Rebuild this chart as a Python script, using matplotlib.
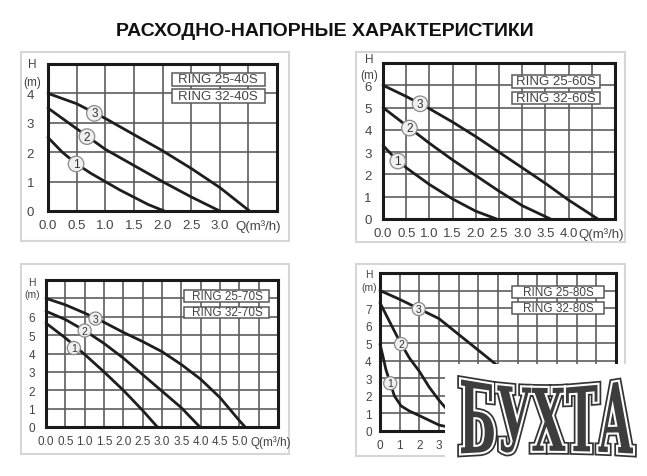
import matplotlib
matplotlib.use("Agg")
import matplotlib.pyplot as plt
import matplotlib.patheffects as pe
import numpy as np
from matplotlib.patches import Rectangle, PathPatch
from matplotlib.textpath import TextPath
from matplotlib.font_manager import FontProperties
from matplotlib.path import Path

plt.rcParams['font.family'] = ['Liberation Sans', 'DejaVu Sans']

W, H = 647, 477

title = "РАСХОДНО-НАПОРНЫЕ ХАРАКТЕРИСТИКИ"
q_label = "Q(m³/h)"

# ---- RING 25/32-40S
p1_models = ["RING 25-40S", "RING 32-40S"]
p1_q1 = [0, 0.25, 0.5, 0.75, 1.0, 1.25, 1.5, 1.75, 2.03]
p1_h1 = [2.5, 2.0, 1.6, 1.28, 1.0, 0.72, 0.47, 0.22, 0.0]
p1_q2 = [0, 0.5, 1.0, 1.5, 2.0, 2.5, 3.0]
p1_h2 = [3.5, 2.8, 2.1, 1.55, 1.0, 0.48, 0.0]
p1_q3 = [0, 0.5, 1.0, 1.5, 2.0, 2.5, 3.0, 3.52]
p1_h3 = [4.0, 3.65, 3.15, 2.6, 2.05, 1.45, 0.8, 0.0]
p1_xlab = ["0.0", "0.5", "1.0", "1.5", "2.0", "2.5", "3.0"]
p1_ylab = ["0", "1", "2", "3", "4"]

# ---- RING 25/32-60S
p2_models = ["RING 25-60S", "RING 32-60S"]
p2_q1 = [0, 0.25, 0.5, 1.0, 1.5, 2.0, 2.45]
p2_h1 = [3.3, 2.75, 2.3, 1.55, 0.9, 0.35, 0.0]
p2_q2 = [0, 0.5, 1.0, 1.5, 2.0, 2.5, 3.0, 3.61]
p2_h2 = [5.0, 4.2, 3.4, 2.65, 1.95, 1.25, 0.6, 0.0]
p2_q3 = [0, 0.5, 1.0, 1.5, 2.0, 2.5, 3.0, 3.5, 4.0, 4.63]
p2_h3 = [6.0, 5.5, 4.95, 4.35, 3.7, 3.0, 2.3, 1.6, 0.85, 0.0]
p2_xlab = ["0.0", "0.5", "1.0", "1.5", "2.0", "2.5", "3.0", "3.5", "4.0"]
p2_ylab = ["0", "1", "2", "3", "4", "5", "6"]

# ---- RING 25/32-70S
p3_models = ["RING 25-70S", "RING 32-70S"]
p3_q1 = [0, 0.5, 1.0, 1.5, 2.0, 2.5, 2.88]
p3_h1 = [5.65, 4.85, 3.95, 3.0, 2.0, 0.9, 0.0]
p3_q2 = [0, 0.5, 1.0, 1.5, 2.0, 2.5, 3.0, 3.5, 3.98]
p3_h2 = [6.3, 5.85, 5.25, 4.55, 3.75, 2.85, 1.95, 1.05, 0.0]
p3_q3 = [0, 0.5, 1.0, 1.5, 2.0, 2.5, 3.0, 3.5, 4.0, 4.5, 5.0, 5.15]
p3_h3 = [7.0, 6.65, 6.2, 5.7, 5.15, 4.65, 4.1, 3.4, 2.6, 1.6, 0.35, 0.0]
p3_xlab = ["0.0", "0.5", "1.0", "1.5", "2.0", "2.5", "3.0", "3.5", "4.0", "4.5", "5.0"]
p3_ylab = ["0", "1", "2", "3", "4", "5", "6"]

# ---- RING 25/32-80S
p4_models = ["RING 25-80S", "RING 32-80S"]
p4_q1 = [0, 0.14, 0.3, 0.53, 0.73, 1.07, 1.49, 2.03, 3.0, 4.0, 5.0]
p4_h1 = [4.95, 4.3, 3.5, 2.7, 2.0, 1.43, 1.14, 0.86, 0.34, 0.1, 0.0]
p4_q2 = [0, 0.5, 1.0, 1.5, 2.0, 2.5, 3.0, 3.5, 4.0, 4.6]
p4_h2 = [7.3, 6.2, 5.1, 4.15, 3.4, 2.5, 1.75, 1.1, 0.5, 0.0]
p4_q3 = [0, 1, 2, 3, 4, 5, 6, 7, 8, 9.2]
p4_h3 = [8.0, 7.5, 6.95, 6.4, 5.5, 4.6, 3.7, 2.7, 1.5, 0.0]
p4_xlab = ["0", "1", "2", "3", "4", "5", "6", "7", "8", "9", "10"]
p4_ylab = ["0", "1", "2", "3", "4", "5", "6", "7"]

watermark = "БУХТА"

fig = plt.figure(figsize=(W / 100, H / 100), dpi=100)


def draw_panel(ax_px, frame_px, xmax, xstep, ymax, xlab, ylab, curves, marks,
               models, box, q_x, hm_x, hm_y, fs=9.5, ypad=8):
    l, t, r, b = ax_px
    ax = fig.add_axes([l / W, 1 - b / H, (r - l) / W, (b - t) / H])
    fl, ft, fr, fb = frame_px
    fig.add_artist(Rectangle((fl / W, 1 - fb / H), (fr - fl) / W, (fb - ft) / H,
                             transform=fig.transFigure, fill=False,
                             ec='#d6d6d6', lw=1.5, zorder=0))
    xt = np.arange(0, xmax + 1e-9, xstep)
    yt = np.arange(0, ymax + 1)
    ax.set_xticks(xt)
    ax.set_xticklabels(xlab + [''] * (len(xt) - len(xlab)))
    ax.set_yticks(yt)
    ax.set_yticklabels(ylab + [''] * (len(yt) - len(ylab)))
    ax.set_xlim(0, xmax)
    ax.set_ylim(0, ymax)
    ax.grid(True, color='#5e5e5e', lw=1.2)
    ax.set_axisbelow(True)
    ax.tick_params(axis='x', length=0, labelsize=fs, colors='#444', pad=6)
    ax.tick_params(axis='y', length=0, labelsize=fs, colors='#444', pad=ypad)
    for s in ax.spines.values():
        s.set_linewidth(2.2)
        s.set_color('#1a1a1a')
    for q, h in curves:
        ax.plot(q, h, color='#1e1e1e', lw=2.0, solid_capstyle='round', clip_on=False)
    for i, (mx, my) in enumerate(marks):
        ax.text(mx, my, str(i + 1), ha='center', va='center', fontsize=fs - 1,
                color='#333', zorder=6,
                bbox=dict(boxstyle='circle,pad=0.15', fc='#f0f0f0', ec='#8a8a8a', lw=0.9))
    x0, x1, ya, yb, yc, yd = box
    for m, (ylo, yhi) in zip(models, [(yb, ya), (yd, yc)]):
        ax.add_patch(Rectangle((x0, ylo), x1 - x0, yhi - ylo, fc='white',
                               ec='#5a5a5a', lw=1.1, zorder=4))
        ax.text((x0 + x1) / 2, (ylo + yhi) / 2, m, ha='center', va='center',
                fontsize=fs, color='#444', zorder=5)
    ax.annotate(q_label, xy=(q_x, 0), xycoords=('data', 'axes fraction'),
                xytext=(0, -6), textcoords='offset points', ha='left', va='top',
                fontsize=fs, color='#444', annotation_clip=False)
    fig.text(hm_x / W, 1 - hm_y[0] / H, "H", ha='center', va='center',
             fontsize=fs - 1, color='#444')
    fig.text(hm_x / W, 1 - hm_y[1] / H, "(m)", ha='center', va='center',
             fontsize=fs - 1, color='#444')
    return ax


fig.text(325 / W, 1 - 31 / H, title, ha='center', va='center', fontsize=14,
         fontweight='bold', color='#111')

draw_panel((48, 65, 277, 212), (21, 53, 289, 242), 4.0, 0.5, 5, p1_xlab, p1_ylab,
           [(p1_q1, p1_h1), (p1_q2, p1_h2), (p1_q3, p1_h3)],
           [(0.49, 1.6), (0.68, 2.53), (0.81, 3.32)],
           p1_models, (2.16, 3.79, 4.71, 4.25, 4.14, 3.68), 3.28,
           32, (65, 83), fs=9.5, ypad=10)

draw_panel((383, 64, 615, 220), (356, 53, 625, 243), 5.0, 0.5, 7, p2_xlab, p2_ylab,
           [(p2_q1, p2_h1), (p2_q2, p2_h2), (p2_q3, p2_h3)],
           [(0.32, 2.6), (0.57, 4.08), (0.8, 5.17)],
           p2_models, (2.77, 4.68, 6.45, 5.9, 5.72, 5.15), 4.2,
           369, (60, 76), fs=9.5, ypad=8)

draw_panel((46, 281, 278, 428), (21, 265, 289, 455), 6.0, 0.5, 8, p3_xlab, p3_ylab,
           [(p3_q1, p3_h1), (p3_q2, p3_h2), (p3_q3, p3_h3)],
           [(0.72, 4.3), (1.0, 5.25), (1.28, 5.9)],
           p3_models, (3.58, 5.78, 7.45, 6.82, 6.55, 5.95), 5.29,
           32, (283, 295), fs=8.5, ypad=8)

draw_panel((380, 274, 616, 432), (356, 265, 625, 457), 12, 1, 9, p4_xlab, p4_ylab,
           [(p4_q1, p4_h1), (p4_q2, p4_h2), (p4_q3, p4_h3)],
           [(0.52, 2.72), (1.07, 4.95), (1.97, 6.95)],
           p4_models, (6.7, 11.4, 8.25, 7.58, 7.33, 6.67), 10.4,
           369, (275, 288), fs=8.5, ypad=6)

# watermark block in the lower right corner
fig.add_artist(Rectangle((445 / W, 0), (W - 445) / W, (477 - 365) / H,
                         transform=fig.transFigure, fc='white', ec='none', zorder=10))
tp = TextPath((0, 0), watermark, size=100,
              prop=FontProperties(family='DejaVu Serif', weight='bold', stretch='condensed'))
v = tp.vertices.copy()
u = (v[:, 0] - v[:, 0].min()) / np.ptp(v[:, 0])
w = (v[:, 1] - v[:, 1].min()) / np.ptp(v[:, 1])
arch = (2 * u - 1) ** 2
hgt = 64 + 12 * arch
px = 459 + u * 174
py = 24 + 3 * (1 - arch) - 3 + w * hgt
wm = PathPatch(Path(np.column_stack([px / W, py / H]), tp.codes),
               transform=fig.transFigure, fc='#3d3d3d', ec='none', zorder=11)
wm.set_path_effects([pe.Stroke(linewidth=5.5, foreground='#333'),
                     pe.Stroke(linewidth=3, foreground='white'), pe.Normal()])
fig.add_artist(wm)

fig.savefig("out.png", dpi=100)
